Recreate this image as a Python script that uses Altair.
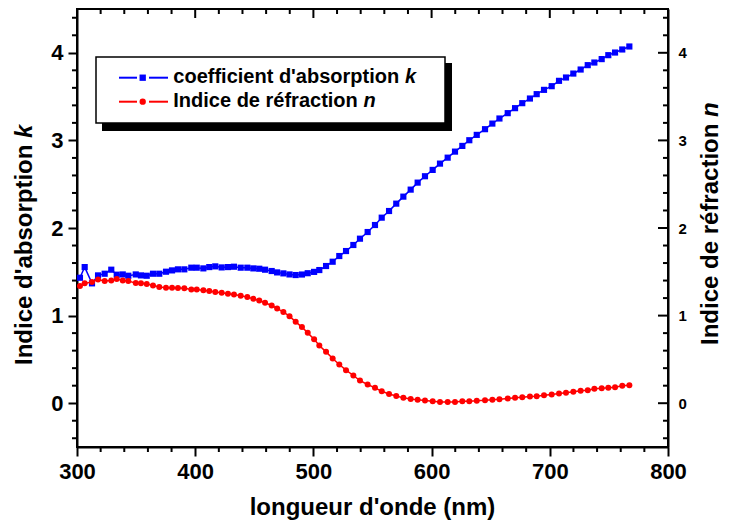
import altair as alt
import pandas as pd

# ---------------- data ----------------
wavelength = [302.5, 306.5, 312.7, 317.8, 323.4, 329.0, 333.6, 338.7, 343.4, 349.7,
              354.1, 359.0, 364.3, 369.6, 375.3, 380.4, 385.4, 390.8, 396.7, 401.3,
              406.9, 411.9, 417.0, 422.4, 427.7, 432.8, 438.5, 444.1, 449.2, 454.2,
              459.1, 464.7, 469.3, 474.6, 479.8, 485.0, 490.3, 495.2, 500.6, 505.0,
              510.7, 516.3, 521.9, 527.6, 533.8, 539.4, 545.9, 552.1, 557.8, 564.0,
              570.1, 576.1, 582.3, 588.2, 594.4, 600.9, 607.1, 613.6, 619.8, 626.0,
              631.9, 638.2, 645.2, 651.4, 657.4, 664.4, 670.6, 676.7, 683.2, 688.9,
              695.1, 701.6, 707.8, 713.7, 719.9, 726.1, 732.1, 737.7, 743.9, 749.5,
              755.2, 761.3, 767.3]

k_abs = [1.432, 1.554, 1.368, 1.459, 1.478, 1.524, 1.467, 1.470, 1.455, 1.470,
         1.459, 1.455, 1.478, 1.478, 1.501, 1.516, 1.528, 1.528, 1.547, 1.547,
         1.539, 1.554, 1.562, 1.550, 1.554, 1.558, 1.547, 1.547, 1.539, 1.535,
         1.524, 1.509, 1.493, 1.482, 1.470, 1.463, 1.469, 1.484, 1.499, 1.520,
         1.566, 1.615, 1.680, 1.737, 1.806, 1.878, 1.954, 2.034, 2.118, 2.194,
         2.278, 2.358, 2.438, 2.518, 2.591, 2.663, 2.735, 2.803, 2.872, 2.937,
         3.002, 3.063, 3.128, 3.192, 3.250, 3.311, 3.368, 3.425, 3.478, 3.528,
         3.577, 3.619, 3.680, 3.718, 3.763, 3.809, 3.859, 3.889, 3.928, 3.973,
         4.003, 4.038, 4.072]

n_ref = [1.337, 1.368, 1.383, 1.413, 1.394, 1.402, 1.417, 1.402, 1.394, 1.371,
         1.368, 1.360, 1.345, 1.326, 1.318, 1.318, 1.314, 1.311, 1.299, 1.299,
         1.288, 1.280, 1.269, 1.261, 1.249, 1.242, 1.227, 1.211, 1.192, 1.173,
         1.147, 1.115, 1.082, 1.040, 0.994, 0.929, 0.869, 0.803, 0.731, 0.659,
         0.586, 0.510, 0.442, 0.377, 0.316, 0.259, 0.213, 0.175, 0.137, 0.106,
         0.083, 0.061, 0.049, 0.038, 0.031, 0.023, 0.015, 0.015, 0.015, 0.023,
         0.023, 0.027, 0.034, 0.038, 0.046, 0.053, 0.061, 0.069, 0.076, 0.080,
         0.091, 0.099, 0.110, 0.118, 0.130, 0.141, 0.149, 0.164, 0.171, 0.175,
         0.183, 0.198, 0.206]

x_major = [300, 400, 500, 600, 700, 800]
x_minor = [320, 340, 360, 380, 420, 440, 460, 480, 520, 540, 560, 580,
           620, 640, 660, 680, 720, 740, 760, 780]
y_major = [0, 1, 2, 3, 4]
y_minor = [-0.4, -0.2, 0.2, 0.4, 0.6, 0.8, 1.2, 1.4, 1.6, 1.8, 2.2, 2.4, 2.6, 2.8,
           3.2, 3.4, 3.6, 3.8, 4.2, 4.4]

legend_k = "coefficient d'absorption"
legend_n = "Indice de réfraction"
title_x = "longueur d'onde (nm)"
title_left = "Indice d'absorption"
title_right = "Indice de réfraction"

df = pd.DataFrame({"wl": wavelength, "k": k_abs, "n": n_ref})
df_xmin = pd.DataFrame({"wl": x_minor})
df_xmaj = pd.DataFrame({"wl": x_major})
df_ymin = pd.DataFrame({"v": y_minor})
df_ymaj = pd.DataFrame({"v": y_major})
one = pd.DataFrame({"a": [0]})

FONT = "Liberation Sans"
W, H = 591, 438
BLUE, RED = "#0000ff", "#ff0000"

xscale = alt.Scale(domain=[300, 800], nice=False, zero=False)
yscale = alt.Scale(domain=[-0.5, 4.5], nice=False, zero=False)

xaxis = alt.Axis(values=x_major, title=None, grid=False, tickSize=9, tickWidth=2,
                 tickColor="black", domainColor="black", domainWidth=2,
                 labelFont=FONT, labelFontSize=22, labelFontWeight="bold",
                 labelColor="black", labelBaseline="alphabetic", labelPadding=22,
                 labelFlush=False, labelOverlap=False, format="d")
yaxis_left = alt.Axis(values=y_major, title=None, grid=False, tickSize=9, tickWidth=2,
                      tickColor="black", domainColor="black", domainWidth=2,
                      labelFont=FONT, labelFontSize=22, labelFontWeight="bold",
                      labelColor="black", labelPadding=5, labelFlush=False,
                      labelOverlap=False, format="d")
yaxis_right = alt.Axis(orient="right", values=y_major, title=None, grid=False,
                       ticks=False, domainColor="black", domainWidth=2,
                       labelFont=FONT, labelFontSize=15, labelFontWeight="bold",
                       labelColor="black", labelPadding=10, labelFlush=False,
                       labelOverlap=False, format="d")

X = alt.X("wl:Q", scale=xscale, axis=xaxis)


def rule_x(data, y1, y2):
    return alt.Chart(data).mark_rule(color="black", strokeWidth=2).encode(
        x=X, y=alt.value(y1), y2=alt.value(y2))


def rule_y(data, x1, x2):
    return alt.Chart(data).mark_rule(color="black", strokeWidth=2).encode(
        y=alt.Y("v:Q", scale=yscale, axis=None), x=alt.value(x1), x2=alt.value(x2))


def txt(s, x, y, size=20, style="normal", angle=0, align="left"):
    return alt.Chart(one).mark_text(
        text=s, font=FONT, fontSize=size, fontWeight="bold", fontStyle=style,
        color="black", align=align, baseline="alphabetic", angle=angle
    ).encode(x=alt.value(x), y=alt.value(y))


k_line = alt.Chart(df).mark_line(color=BLUE, strokeWidth=1.5).encode(
    x=X, y=alt.Y("k:Q", scale=yscale, axis=yaxis_left))
k_pts = alt.Chart(df).mark_point(shape="square", filled=True, size=38, color=BLUE,
                                 opacity=1).encode(
    x=X, y=alt.Y("k:Q", scale=yscale, axis=None))
n_line = alt.Chart(df).mark_line(color=RED, strokeWidth=1.5).encode(
    x=X, y=alt.Y("n:Q", scale=yscale, axis=yaxis_right))
n_pts = alt.Chart(df).mark_point(shape="circle", filled=True, size=36, color=RED,
                                 opacity=1).encode(
    x=X, y=alt.Y("n:Q", scale=yscale, axis=None))

# minor / inner ticks
ticks = [
    rule_x(df_xmin, H, H + 5),      # bottom minor (outward)
    rule_x(df_xmaj, 0, 9),          # top major (inward)
    rule_x(df_xmin, 0, 5),          # top minor (inward)
    rule_y(df_ymin, -5, 0),         # left minor (outward)
    rule_y(df_ymaj, W - 10, W),     # right major (inward)
    rule_y(df_ymin, W - 5, W),      # right minor (inward)
]

# legend box
shadow = alt.Chart(one).mark_rect(color="black").encode(
    x=alt.value(25), x2=alt.value(375), y=alt.value(54), y2=alt.value(122))
box = alt.Chart(one).mark_rect(fill="white", stroke="black", strokeWidth=1.5).encode(
    x=alt.value(19), x2=alt.value(368), y=alt.value(48), y2=alt.value(114))


def leg_row(y, color, shape):
    a = alt.Chart(one).mark_rule(color=color, strokeWidth=2).encode(
        x=alt.value(42), x2=alt.value(60), y=alt.value(y))
    b = alt.Chart(one).mark_rule(color=color, strokeWidth=2).encode(
        x=alt.value(72), x2=alt.value(91), y=alt.value(y))
    c = alt.Chart(one).mark_point(shape=shape, filled=True, size=40, color=color,
                                  opacity=1).encode(x=alt.value(65.7), y=alt.value(y))
    return [a, b, c]


legend = [shadow, box] + leg_row(68.7, BLUE, "square") + leg_row(92.7, RED, "circle") + [
    txt(legend_k, 96.3, 73.6), txt("k", 328, 73.6, style="italic"),
    txt(legend_n, 96.3, 97.6), txt("n", 286.4, 97.6, style="italic"),
]

titles = [
    txt(title_x, W / 2, 505.5, size=24, align="center"),
    txt(title_left, -45, 356, size=24, angle=270),
    txt("k", -45, 129, size=24, style="italic", angle=270),
    txt(title_right, 641, 336, size=24, angle=270),
    txt("n", 641, 108, size=24, style="italic", angle=270),
]

chart = alt.layer(
    k_line, k_pts, n_line, n_pts, *ticks, *legend, *titles
).resolve_scale(y="independent").properties(
    width=W, height=H,
    autosize=alt.AutoSizeParams(type="none"),
    padding={"left": 69, "top": 1, "right": 57, "bottom": 74},
).configure_view(stroke="black", strokeWidth=2)

chart.save("out.html", embed_options={"renderer": "svg", "actions": False})
